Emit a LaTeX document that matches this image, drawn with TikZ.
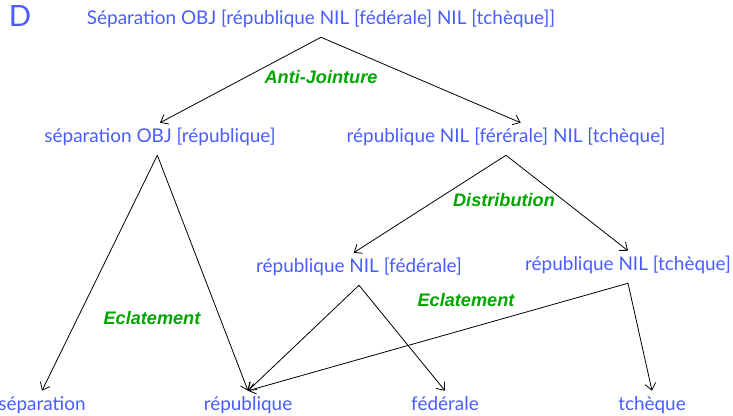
\documentclass[tikz,border=0pt]{standalone}
\usepackage{fontspec}
\setmainfont{Lato}
\newfontfamily\labelfont{Liberation Sans}
\usetikzlibrary{arrows.meta}
\definecolor{termblue}{RGB}{72,92,255}
\definecolor{opgreen}{RGB}{0,165,0}
\tikzset{
  term/.style={text=termblue, font=\fontsize{14.2}{16}\selectfont, anchor=base,
    text height=12.75pt, text depth=6.75pt, inner ysep=2.25pt, inner xsep=0pt},
  oplabel/.style={text=opgreen, font=\labelfont\bfseries\itshape\fontsize{13.6}{15}\selectfont,
    inner sep=0pt},
  link/.style={draw=black, line width=0.6pt, -{Straight Barb[length=5pt,width=8pt]}},
}
\begin{document}
\begin{tikzpicture}[x=0.75pt, y=-0.75pt]
\useasboundingbox (0,0) rectangle (733,416);

\node[text=termblue, font=\fontsize{22}{24}\selectfont, anchor=base, inner sep=0pt] (tag) at (20,27) {D};

% terms
\node[term] (whole) at (321,25) {Séparation OBJ [république NIL [fédérale] NIL [tchèque]]};
\node[term] (sepobj) at (160,143) {séparation OBJ [république]};
\node[term] (repnil) at (506,143) {république NIL [férérale] NIL [tchèque]};
\node[term] (repfed) at (359,273) {république NIL [fédérale]};
\node[term] (reptch) at (628,271) {république NIL [tchèque]};
\node[term] (sep) at (42,411) {séparation};
\node[term] (rep) at (248,411) {république};
\node[term] (fed) at (445,411) {fédérale};
\node[term] (tch) at (652,411) {tchèque};

% operation labels
\node[oplabel] (anti) at (321,77) {Anti-Jointure};
\node[oplabel] (distr) at (504,200) {Distribution};
\node[oplabel] (ecl1) at (152,318) {Eclatement};
\node[oplabel] (ecl2) at (466,300) {Eclatement};

% derivations
\draw[link] (whole.south) -- (sepobj.north);
\draw[link] (whole.south) -- ([xshift=11]repnil.north);
\draw[link] (repnil.south) -- ([xshift=-4]repfed.north);
\draw[link] (repnil.south) -- (reptch.north);
\draw[link] ([xshift=-2]sepobj.south) -- (sep.north);
\draw[link] ([xshift=-2]sepobj.south) -- (rep.north);
\draw[link] (repfed.south) -- (rep.north);
\draw[link] (repfed.south) -- (fed.north);
\draw[link] (reptch.south) -- (rep.north);
\draw[link] (reptch.south) -- (tch.north);
\end{tikzpicture}
\end{document}
